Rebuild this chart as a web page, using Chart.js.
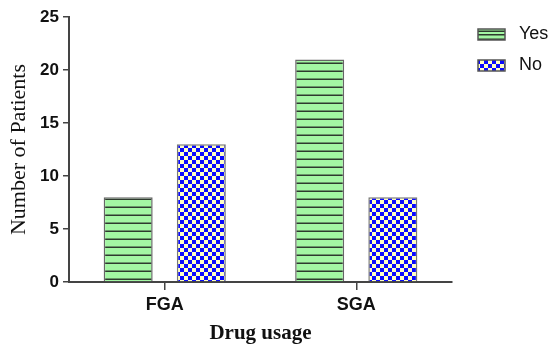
<!DOCTYPE html>
<html>
<head>
<meta charset="utf-8">
<script src="https://cdn.jsdelivr.net/npm/chart.js@4/dist/chart.umd.min.js"></script>
<style>
html,body{margin:0;padding:0;background:#fff;}
#wrap{width:557px;height:347px;position:relative;}
</style>
</head>
<body>
<div id="wrap"><canvas id="c" width="557" height="347"></canvas></div>
<script>
const categories = ['FGA', 'SGA'];
const yesValues = [8, 21];
const noValues = [13, 8];
const seriesLabels = ['Yes', 'No'];
const yTicks = [0, 5, 10, 15, 20, 25];

function stripePattern() {
  const c = document.createElement('canvas');
  c.width = 8; c.height = 8;
  const g = c.getContext('2d');
  g.fillStyle = '#a3f7a3';
  g.fillRect(0, 0, 8, 8);
  g.fillStyle = '#2e3a2e';
  g.fillRect(0, 6.5, 8, 1.5);
  return g.createPattern(c, 'repeat');
}
function checkerPattern() {
  const c = document.createElement('canvas');
  c.width = 8; c.height = 8;
  const g = c.getContext('2d');
  g.fillStyle = '#ffffc4';
  g.fillRect(0, 0, 8, 8);
  g.fillStyle = '#0a0aff';
  g.fillRect(0, 0, 4, 4);
  g.fillRect(4, 4, 4, 4);
  return g.createPattern(c, 'repeat');
}
const yesFill = stripePattern();
const noFill = checkerPattern();

const legendPlugin = {
  id: 'sideLegend',
  afterDraw(chart) {
    const ctx = chart.ctx;
    const items = chart.data.datasets;
    const startY = [34.5, 65.5];
    ctx.save();
    items.forEach((ds, i) => {
      const cy = startY[i];
      const bx = 478, bw = 27, bh = 11;
      const by = Math.round(cy - bh / 2);
      ctx.fillStyle = ds.backgroundColor;
      ctx.fillRect(bx, by, bw, bh);
      if (i === 0) {
        ctx.fillStyle = '#2e3a2e';
        ctx.fillRect(bx, by + 5, bw, 1.5);
      }
      ctx.strokeStyle = '#555';
      ctx.lineWidth = 1.5;
      ctx.strokeRect(bx, by, bw, bh);
      ctx.fillStyle = '#111';
      ctx.font = '18px "Liberation Sans", Arial, sans-serif';
      ctx.textBaseline = 'middle';
      ctx.textAlign = 'left';
      ctx.fillText(ds.label, 519, cy);
    });
    ctx.restore();
  }
};

new Chart(document.getElementById('c'), {
  type: 'bar',
  data: {
    labels: categories,
    datasets: [
      { label: seriesLabels[0], data: yesValues, backgroundColor: yesFill, borderColor: '#666', borderWidth: 1.5, categoryPercentage: 0.764, barPercentage: 0.67 },
      { label: seriesLabels[1], data: noValues, backgroundColor: noFill, borderColor: '#777', borderWidth: 1.5, categoryPercentage: 0.764, barPercentage: 0.67 }
    ]
  },
  options: {
    responsive: false,
    animation: false,
    devicePixelRatio: 1,
    layout: { padding: { left: 0, right: 105, top: 17, bottom: 0 } },
    plugins: { legend: { display: false }, tooltip: { enabled: false } },
    scales: {
      x: {
        offset: true,
        grid: { display: true, drawOnChartArea: false, drawTicks: true, tickLength: 8, offset: false, color: '#444', lineWidth: 1.5 },
        border: { display: true, color: '#444', width: 2 },
        ticks: { color: '#111', font: { family: '"Liberation Sans", Arial, sans-serif', size: 18, weight: 'bold' }, padding: 4 },
        title: { display: true, text: 'Drug usage', color: '#111', font: { family: '"Liberation Serif", "Times New Roman", serif', size: 21, weight: 'bold' }, padding: { top: 4, bottom: 1 } },
        afterFit(scale) { scale.height = 65; }
      },
      y: {
        min: 0, max: 25,
        afterBuildTicks(scale) { scale.ticks = yTicks.map(v => ({ value: v })); },
        grid: { display: true, drawOnChartArea: false, drawTicks: true, tickLength: 6, color: '#444', lineWidth: 1.5 },
        border: { display: true, color: '#444', width: 2 },
        ticks: { color: '#111', font: { family: '"Liberation Sans", Arial, sans-serif', size: 17, weight: 'bold' }, padding: 4 },
        title: { display: true, text: 'Number of Patients', color: '#111', font: { family: '"Liberation Serif", "Times New Roman", serif', size: 22, weight: 'normal' }, padding: { top: 6, bottom: 4 } },
        afterFit(scale) { scale.width = 69; }
      }
    }
  },
  plugins: [legendPlugin]
});
</script>
</body>
</html>
